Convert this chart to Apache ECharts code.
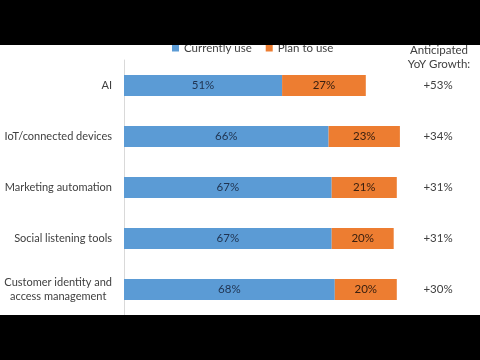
<!DOCTYPE html>
<html><head><meta charset="utf-8">
<script src="https://cdn.jsdelivr.net/npm/echarts@6/dist/echarts.min.js"></script>
<style>html,body{margin:0;padding:0;background:#fff}#c{width:480px;height:360px}</style>
</head><body><div id="c"></div>
<script>
var categories = ['AI', 'IoT/connected devices', 'Marketing automation', 'Social listening tools', 'Customer identity and\naccess management'];
var currentlyUse = [51, 66, 67, 67, 68];
var planToUse = [27, 23, 21, 20, 20];
var growth = ['+53%', '+34%', '+31%', '+31%', '+30%'];
var seriesNames = ['Currently use', 'Plan to use'];
var growthTitle = 'Anticipated\nYoY Growth:';

var FONT = 'Lato';
var FS = 11;
var chart = echarts.init(document.getElementById('c'), null, {renderer: 'canvas'});
chart.setOption({
  animation: false,
  textStyle: {fontFamily: FONT},
  legend: {
    data: seriesNames, left: 167, top: 37, itemWidth: 7, itemHeight: 7, itemGap: 14,
    icon: 'rect', textStyle: {fontSize: 11.5, color: '#404040', fontFamily: FONT}
  },
  grid: {left: 124, right: 46, top: 60, height: 255, containLabel: false},
  xAxis: {type: 'value', min: 0, max: 100, show: false},
  yAxis: [{
    type: 'category', data: categories, inverse: true,
    axisLine: {show: true, lineStyle: {color: '#d9d9d9', width: 1}},
    axisTick: {show: false},
    axisLabel: {
      margin: 12, fontSize: FS, color: '#404040', fontFamily: FONT, lineHeight: 14,
      formatter: function (v) {
        if (v.indexOf('\n') >= 0) {
          return v.split('\n').map(function (s) { return '{c|' + s + '}'; }).join('\n');
        }
        return v;
      },
      rich: {c: {align: 'center', fontSize: FS, color: '#404040', fontFamily: FONT, lineHeight: 14}}
    }
  }, {
    type: 'category', data: growth, inverse: true, position: 'right',
    axisLine: {show: false}, axisTick: {show: false},
    axisLabel: {margin: 4, align: 'center', fontSize: 11.5, color: '#404040', fontFamily: FONT}
  }],
  series: [{
    name: seriesNames[0], type: 'bar', stack: 's', data: currentlyUse, barWidth: 21,
    itemStyle: {color: '#5b9bd5'},
    label: {show: true, position: 'inside', formatter: '{c}%', fontSize: 11.5, color: '#1f3350', fontFamily: FONT}
  }, {
    name: seriesNames[1], type: 'bar', stack: 's', data: planToUse, barWidth: 21,
    itemStyle: {color: '#ed7d31'},
    label: {show: true, position: 'inside', formatter: '{c}%', fontSize: 11.5, color: '#3a2010', fontFamily: FONT}
  }],
  graphic: [
    {type: 'text', x: 439, y: 43, style: {text: growthTitle, align: 'center', verticalAlign: 'top', fontSize: 11.5, lineHeight: 14, fill: '#404040', fontFamily: FONT}, z: 50},
    {type: 'rect', shape: {x: 0, y: 0, width: 480, height: 45}, style: {fill: '#000'}, z: 100},
    {type: 'rect', shape: {x: 0, y: 315, width: 480, height: 45}, style: {fill: '#000'}, z: 100}
  ]
});
</script></body></html>
